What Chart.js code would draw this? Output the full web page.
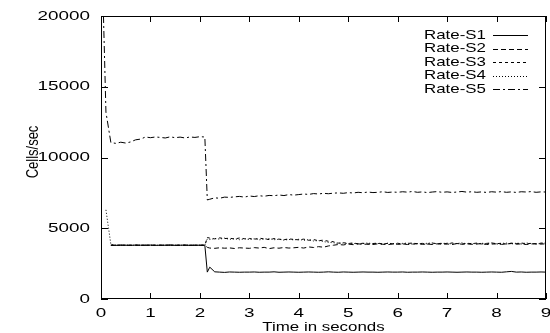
<!DOCTYPE html>
<html>
<head>
<meta charset="utf-8">
<script src="https://cdn.jsdelivr.net/npm/chart.js@4.4.0/dist/chart.umd.min.js"></script>
<style>
  html, body { margin: 0; padding: 0; background: #fff; }
</style>
</head>
<body>
<canvas id="grafica" width="550" height="333"></canvas>
<script>
// tiempo en segundos
var tiempos = [0.05, 0.1,
  0.2, 0.3, 0.4, 0.5, 0.6, 0.7, 0.8, 0.9,
  1.0, 1.1, 1.2, 1.3, 1.4, 1.5, 1.6, 1.7, 1.8, 1.9,
  2.0, 2.1, 2.15,
  2.2, 2.3, 2.4, 2.5, 2.6, 2.7, 2.8, 2.9,
  3.0, 3.1, 3.2, 3.3, 3.4, 3.5, 3.6, 3.7, 3.8, 3.9,
  4.0, 4.1, 4.2, 4.3, 4.4, 4.5, 4.6, 4.7, 4.8, 4.9,
  5.0, 5.1, 5.2, 5.3, 5.4, 5.5, 5.6, 5.7, 5.8, 5.9,
  6.0, 6.1, 6.2, 6.3, 6.4, 6.5, 6.6, 6.7, 6.8, 6.9,
  7.0, 7.1, 7.2, 7.3, 7.4, 7.5, 7.6, 7.7, 7.8, 7.9,
  8.0, 8.1, 8.2, 8.3, 8.4, 8.5, 8.6, 8.7, 8.8, 8.9,
  9.0];

var rateS1 = [null, null,
  3800, 3790, 3810, 3800, 3790, 3810, 3800, 3800,
  3810, 3790, 3800, 3800, 3820, 3790, 3800, 3810, 3790, 3800,
  3800, 3800, 1900,
  2250, 1920, 1900, 1880, 1910, 1900, 1890, 1900,
  1900, 1910, 1890, 1900, 1900, 1920, 1890, 1900, 1910, 1900,
  1890, 1900, 1910, 1900, 1890, 1900, 1920, 1900, 1890, 1910,
  1900, 1890, 1900, 1910, 1900, 1900, 1890, 1900, 1910, 1900,
  1900, 1910, 1890, 1900, 1900, 1910, 1900, 1890, 1900, 1900,
  1910, 1900, 1890, 1900, 1910, 1900, 1900, 1890, 1900, 1910,
  1900, 1890, 1920, 1950, 1900, 1910, 1890, 1900, 1900, 1910,
  1900];

var rateS2 = [null, null,
  3800, 3800, 3800, 3800, 3800, 3800, 3800, 3800,
  3800, 3800, 3800, 3800, 3800, 3800, 3800, 3800, 3800, 3800,
  3800, 3800, 3650,
  3600, 3580, 3620, 3590, 3610, 3570, 3620, 3600,
  3580, 3630, 3600, 3650, 3560, 3620, 3590, 3640, 3600, 3620,
  3650, 3600, 3680, 3640, 3700, 3660, 3750, 3800, 3850, 3820,
  3880, 3840, 3900, 3860, 3880, 3850, 3900, 3870, 3840, 3890,
  3860, 3900, 3850, 3880, 3910, 3860, 3890, 3850, 3900, 3870,
  3890, 3850, 3920, 3870, 3900, 3860, 3890, 3910, 3850, 3880,
  3900, 3860, 3890, 3920, 3870, 3900, 3850, 3890, 3910, 3880,
  3900];

var rateS3 = [null, null,
  3800, 3800, 3800, 3800, 3800, 3800, 3800, 3800,
  3800, 3800, 3800, 3800, 3800, 3800, 3800, 3800, 3800, 3800,
  3800, 3800, 4350,
  4300, 4250, 4320, 4270, 4300, 4240, 4310, 4260,
  4280, 4220, 4300, 4250, 4200, 4270, 4230, 4190, 4250, 4210,
  4180, 4230, 4150, 4200, 4120, 4160, 4080, 4050, 3950, 3980,
  3920, 3960, 3900, 3940, 3880, 3920, 3950, 3890, 3930, 3900,
  3940, 3880, 3920, 3960, 3900, 3930, 3880, 3950, 3910, 3940,
  3900, 3960, 3920, 3880, 3940, 3910, 3950, 3890, 3930, 3960,
  3910, 3940, 3880, 3950, 3920, 3960, 3900, 3930, 3890, 3950,
  3920];

var rateS4 = [null, 6300,
  3850, 3800, 3800, 3800, 3800, 3800, 3800, 3800,
  3800, 3800, 3800, 3800, 3800, 3800, 3800, 3800, 3800, 3800,
  3800, 3800, 4250,
  4200, 4280, 4230, 4300, 4220, 4260, 4190, 4250,
  4200, 4260, 4180, 4240, 4270, 4190, 4220, 4160, 4210, 4180,
  4220, 4150, 4190, 4100, 4130, 4060, 4000, 3980, 3920, 3960,
  3900, 3940, 3880, 3920, 3960, 3900, 3930, 3870, 3940, 3910,
  3890, 3930, 3950, 3880, 3920, 3900, 3940, 3960, 3890, 3920,
  3950, 3880, 3920, 3970, 3900, 3930, 3890, 3940, 3910, 3960,
  3880, 3930, 3950, 3900, 3940, 3890, 3960, 3920, 3880, 3940,
  3960];

var rateS5 = [20000, 13200,
  11050, 11000, 11080, 11020, 11100, 11250, 11300, 11450,
  11400, 11450, 11420, 11380, 11460, 11400, 11440, 11380, 11450, 11420,
  11470, 11450, 7000,
  7050, 7150, 7120, 7200, 7180, 7220, 7250, 7200,
  7280, 7240, 7300, 7260, 7320, 7300, 7350, 7310, 7380, 7340,
  7380, 7420, 7390, 7450, 7420, 7470, 7440, 7480, 7500, 7470,
  7520, 7490, 7540, 7510, 7560, 7520, 7540, 7580, 7530, 7560,
  7540, 7580, 7550, 7600, 7540, 7570, 7520, 7560, 7590, 7540,
  7570, 7530, 7560, 7600, 7550, 7580, 7540, 7570, 7530, 7580,
  7550, 7590, 7540, 7570, 7530, 7580, 7560, 7590, 7540, 7570,
  7560];

var nombres = ['Rate-S1', 'Rate-S2', 'Rate-S3', 'Rate-S4', 'Rate-S5'];
var etiquetasX = ['0', '1', '2', '3', '4', '5', '6', '7', '8', '9'];
var etiquetasY = ['0', '5000', '10000', '15000', '20000'];

var series = [rateS1, rateS2, rateS3, rateS4, rateS5];
var trazos = [[], [5, 3], [3, 3], [1, 2], [7, 3, 2, 3]];

function puntos(valores) {
    return tiempos.map(function (t, i) { return { x: t, y: valores[i] }; });
}

var fuente = '13px "Liberation Sans", Arial, sans-serif';
var estirar = 1.3;      // el texto del original esta ensanchado
var estirarNum = 1.45;  // los numeros algo mas

function texto(ctx, s, x, y, align, k) {
    ctx.save();
    ctx.translate(x, y);
    ctx.scale(k || estirar, 1);
    ctx.textAlign = align;
    ctx.fillText(s, 0, 0);
    ctx.restore();
}

// marco, marcas hacia dentro, etiquetas y leyenda al estilo gnuplot
var marco = {
    id: 'marco',
    afterDraw: function (chart) {
        var ctx = chart.ctx, a = chart.chartArea;
        var sx = chart.scales.x, sy = chart.scales.y;
        ctx.save();
        ctx.strokeStyle = '#000';
        ctx.lineWidth = 1;
        ctx.setLineDash([]);
        ctx.strokeRect(a.left + 0.5, a.top + 0.5, a.right - a.left - 1, a.bottom - a.top - 1);
        ctx.beginPath();
        etiquetasX.forEach(function (l) {
            var px = Math.round(sx.getPixelForValue(Number(l))) + 0.5;
            ctx.moveTo(px, a.bottom); ctx.lineTo(px, a.bottom - 6);
            ctx.moveTo(px, a.top); ctx.lineTo(px, a.top + 6);
        });
        etiquetasY.forEach(function (l) {
            var py = Math.round(sy.getPixelForValue(Number(l))) + 0.5;
            ctx.moveTo(a.left, py); ctx.lineTo(a.left + 7, py);
            ctx.moveTo(a.right, py); ctx.lineTo(a.right - 7, py);
        });
        ctx.stroke();

        ctx.fillStyle = '#000';
        ctx.font = fuente;
        ctx.textBaseline = 'middle';
        etiquetasX.forEach(function (l) {
            texto(ctx, l, sx.getPixelForValue(Number(l)), 313, 'center', estirarNum);
        });
        etiquetasY.forEach(function (l) {
            texto(ctx, l, 90, sy.getPixelForValue(Number(l)), 'right', estirarNum);
        });
        texto(ctx, 'Time in seconds', (a.left + a.right) / 2, 327, 'center');

        ctx.save();
        ctx.translate(33, 152);
        ctx.rotate(-Math.PI / 2);
        ctx.scale(1, estirar);
        ctx.textAlign = 'center';
        ctx.fillText('Cells/sec', 0, 0);
        ctx.restore();

        // leyenda
        chart.data.datasets.forEach(function (ds, i) {
            var y = 35 + i * 13.5;
            texto(ctx, ds.label, 486, y, 'right');
            ctx.beginPath();
            ctx.setLineDash(ds.borderDash);
            ctx.moveTo(493, Math.round(y) + 0.5);
            ctx.lineTo(528, Math.round(y) + 0.5);
            ctx.stroke();
        });
        ctx.restore();
    }
};

var chart = new Chart(document.getElementById('grafica').getContext('2d'), {
    type: 'line',
    data: {
        datasets: series.map(function (s, i) {
            return {
                label: nombres[i],
                data: puntos(s),
                borderColor: '#000',
                borderWidth: 1,
                borderDash: trazos[i],
                pointRadius: 0,
                tension: 0,
                fill: false,
                spanGaps: false
            };
        })
    },
    options: {
        responsive: false,
        animation: false,
        devicePixelRatio: 1,
        layout: { padding: { left: 0, right: 4, top: 16, bottom: 0 } },
        plugins: { legend: { display: false }, tooltip: { enabled: false } },
        scales: {
            x: {
                type: 'linear', min: 0, max: 9,
                ticks: { display: false, stepSize: 1 },
                grid: { display: false },
                border: { display: false },
                afterFit: function (s) { s.height = 34; }
            },
            y: {
                min: 0, max: 20000,
                ticks: { display: false, stepSize: 5000 },
                grid: { display: false },
                border: { display: false },
                afterFit: function (s) { s.width = 101; }
            }
        }
    },
    plugins: [marco]
});
</script>
</body>
</html>
